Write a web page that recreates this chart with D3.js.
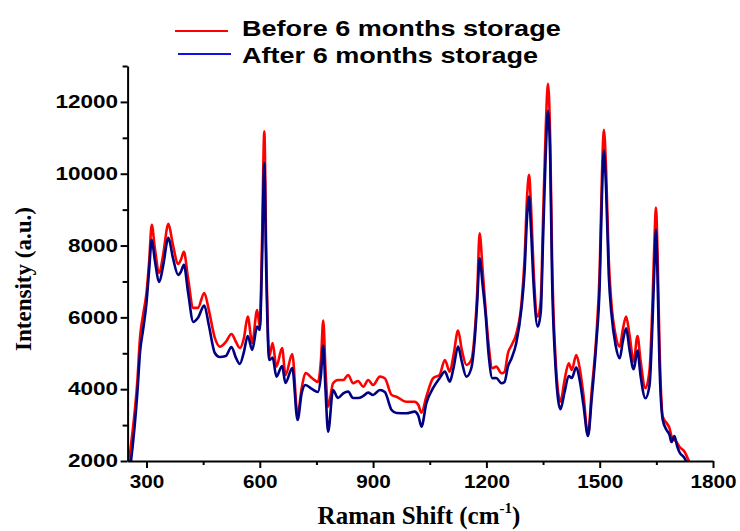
<!DOCTYPE html>
<html>
<head>
<meta charset="utf-8">
<script src="https://cdn.jsdelivr.net/npm/d3@7"></script>
<style>
    body { margin: 0; background: #fff; }
    svg { display: block; }
</style>
</head>
<body>
<div id="chart"></div>
<script>
// Raman spectra (cm-1 / a.u.)
var ramanShift = [254, 259, 276, 283, 291, 300, 307, 314, 322, 334,
    344, 358, 370, 384, 391, 399, 410, 424, 436, 453,
    465, 481, 494, 510, 525, 537, 547, 558, 568, 580,
    593, 600, 606, 612, 617, 625, 634, 644, 659, 668,
    686, 700, 711, 721, 738, 754, 762, 768, 774, 781,
    794, 807, 821, 834, 847, 860, 874, 887, 900, 918,
    931, 949, 962, 988, 1010, 1020, 1028, 1041, 1059, 1076,
    1090, 1103, 1113, 1125, 1135, 1147, 1160, 1169, 1176, 1182,
    1190, 1198, 1206, 1216, 1226, 1240, 1248, 1257, 1267, 1279,
    1293, 1301, 1308, 1313, 1318, 1325, 1336, 1344, 1350, 1357,
    1363, 1369, 1374, 1381, 1396, 1407, 1418, 1426, 1438, 1447,
    1457, 1469, 1479, 1491, 1500, 1506, 1511, 1517, 1524, 1531,
    1542, 1553, 1561, 1570, 1579, 1590, 1600, 1608, 1621, 1632,
    1640, 1645, 1649, 1653, 1658, 1667, 1677, 1685, 1690, 1698,
    1705, 1711, 1725, 1733, 1738];

var beforeStorage = [2000, 2446, 4257, 5455, 6068, 6680, 7544, 8575, 7934, 7238,
    7739, 8603, 8018, 7488, 7600, 7823, 7098, 6263, 6263, 6680,
    6207, 5427, 5184, 5315, 5538, 5315, 5148, 5427, 6020, 5287,
    6207, 5742, 8157, 11180, 7878, 4906, 5287, 4627, 5148, 4396,
    4981, 3282, 4034, 4452, 4312, 4201, 4814, 5909, 4535, 3513,
    4165, 4257, 4257, 4396, 4165, 4229, 4070, 4257, 4117, 4349,
    4304, 3839, 3791, 3652, 3652, 3560, 3346, 3791, 4304, 4396,
    4814, 4488, 4953, 5630, 5092, 4675, 4814, 5558, 6764, 8344,
    7321, 6207, 5232, 4583, 4627, 4443, 4480, 5000, 5232, 5538,
    6394, 7600, 9411, 9968, 9132, 7321, 6020, 6485, 8714, 11222,
    12503, 10943, 7600, 5279, 3652, 4257, 4722, 4535, 4953, 4591,
    3839, 2724, 3978, 5463, 7321, 9968, 11222, 10107, 7600, 6394,
    5510, 5184, 5650, 6020, 5510, 4767, 5483, 4814, 4025, 4535,
    6485, 8157, 9057, 7878, 5371, 3234, 3059, 2911, 2697, 2585,
    2501, 2398, 2251, 2075, 1944];

var afterStorage = [1610, 2000, 3922, 5037, 5650, 6402, 7321, 8157, 7600, 6987,
    7433, 8213, 7656, 7182, 7266, 7461, 6708, 5873, 5984, 6327,
    5789, 5009, 4897, 4925, 5176, 4870, 4702, 5037, 5483, 5092,
    5742, 5650, 7600, 10294, 7321, 4814, 4878, 4349, 4647, 4173,
    4591, 3142, 3894, 4117, 4006, 3922, 4396, 5212, 3978, 2816,
    3978, 3755, 3886, 3931, 3755, 3755, 3811, 3903, 3839, 3978,
    3922, 3421, 3337, 3329, 3374, 3254, 2956, 3608, 4034, 4304,
    4488, 4209, 4591, 5184, 4758, 4349, 4583, 5371, 6485, 7647,
    6903, 6068, 4953, 4304, 4312, 4165, 4201, 4627, 4870, 5279,
    6263, 7266, 8854, 9363, 8491, 6903, 5742, 6151, 8157, 10525,
    11751, 10386, 7043, 5009, 3440, 3922, 4368, 4312, 4610, 4257,
    3560, 2697, 3755, 5279, 6903, 9411, 10645, 9550, 7182, 6115,
    5232, 4861, 5315, 5697, 5092, 4555, 5073, 4396, 3747, 4117,
    5928, 7461, 8436, 7182, 4814, 3142, 2864, 2724, 2529, 2697,
    2418, 2251, 2075, 1889, 1750];

var xTicks = [300, 600, 900, 1200, 1500, 1800];
var xMinorTicks = [450, 750, 1050, 1350, 1650];
var yTicks = [2000, 4000, 6000, 8000, 10000, 12000];
var yMinorTicks = [3000, 5000, 7000, 9000, 11000, 13000];
var seriesNames = ["Before 6 months storage", "After 6 months storage"];

class ramanPlot {
    constructor(containerID) {
        this.containerID = "#" + containerID;
        this.width = 740;
        this.height = 531;
        // plot box in pixels
        this.left = 127.6;
        this.right = 713;
        this.top = 66;
        this.bottom = 461;
        this.stretch = 1.25; // the figure's sans text is drawn wide
        this.sansFont = "'Liberation Sans', Arial, sans-serif";
        this.serifFont = "'Liberation Serif', 'Times New Roman', serif";
    }

    drawPlot() {
        var self = this;
        this.svg = d3.select(this.containerID)
            .append("svg")
            .attr("width", this.width)
            .attr("height", this.height);

        this.x = d3.scaleLinear().domain([250, 1800]).range([this.left, this.right]);
        this.y = d3.scaleLinear().domain([2000, 13000]).range([this.bottom, this.top]);

        this.svg.append("clipPath")
            .attr("id", "plot-clip")
            .append("rect")
            .attr("x", this.left)
            .attr("y", this.top)
            .attr("width", this.right - this.left)
            .attr("height", this.bottom - this.top);

        var before = ramanShift.map(function (d, i) { return [d, beforeStorage[i]]; });
        var after = ramanShift.map(function (d, i) { return [d, afterStorage[i]]; });

        var line = d3.line()
            .x(function (d) { return self.x(d[0]); })
            .y(function (d) { return self.y(d[1]); })
            .curve(d3.curveMonotoneX);

        var plotArea = this.svg.append("g").attr("clip-path", "url(#plot-clip)");
        plotArea.append("path")
            .datum(before)
            .attr("d", line)
            .attr("fill", "none")
            .attr("stroke", "#ff0000")
            .attr("stroke-width", 2.6)
            .attr("stroke-linejoin", "round");
        plotArea.append("path")
            .datum(after)
            .attr("d", line)
            .attr("fill", "none")
            .attr("stroke", "#000080")
            .attr("stroke-width", 2.6)
            .attr("stroke-linejoin", "round");

        this.drawAxes();
        this.drawLegend();
    }

    drawAxes() {
        var self = this;
        // minor ticks first, majors with labels on top
        this.svg.append("g")
            .attr("transform", "translate(0," + this.bottom + ")")
            .call(d3.axisBottom(this.x).tickValues(xMinorTicks).tickSize(4).tickFormat(""))
            .call(function (g) { g.select(".domain").remove(); });
        this.svg.append("g")
            .attr("transform", "translate(" + this.left + ",0)")
            .call(d3.axisLeft(this.y).tickValues(yMinorTicks).tickSize(5).tickFormat(""))
            .call(function (g) { g.select(".domain").remove(); });

        var xAxis = this.svg.append("g")
            .attr("transform", "translate(0," + this.bottom + ")")
            .call(d3.axisBottom(this.x).tickValues(xTicks).tickFormat(d3.format("d"))
                .tickSizeInner(7).tickSizeOuter(0));
        var yAxis = this.svg.append("g")
            .attr("transform", "translate(" + this.left + ",0)")
            .call(d3.axisLeft(this.y).tickValues(yTicks).tickFormat(d3.format("d"))
                .tickSizeInner(7).tickSizeOuter(0));

        this.svg.selectAll(".tick line").attr("stroke", "#000").attr("stroke-width", 2);
        this.svg.selectAll(".domain").attr("stroke", "#000").attr("stroke-width", 2);

        xAxis.selectAll("text")
            .attr("y", 27)
            .attr("dy", 0)
            .attr("transform", "scale(1.15,1)")
            .style("font-family", this.sansFont)
            .style("font-weight", "bold")
            .style("font-size", "18px")
            .style("fill", "#000");
        yAxis.selectAll("text")
            .attr("x", -9.6 / this.stretch)
            .attr("transform", "scale(" + this.stretch + ",1)")
            .style("font-family", this.sansFont)
            .style("font-weight", "bold")
            .style("font-size", "18px")
            .style("fill", "#000");

        // axis titles
        this.svg.append("text")
            .attr("transform", "translate(31,279) rotate(-90)")
            .attr("text-anchor", "middle")
            .style("font-family", this.serifFont)
            .style("font-weight", "bold")
            .style("font-size", "23px")
            .text("Intensity (a.u.)");

        var xTitle = this.svg.append("text")
            .attr("x", 419)
            .attr("y", 524)
            .attr("text-anchor", "middle")
            .style("font-family", this.serifFont)
            .style("font-weight", "bold")
            .style("font-size", "25px");
        xTitle.append("tspan").text("Raman Shift (cm");
        xTitle.append("tspan").attr("dy", -11).style("font-size", "15px").text("-1");
        xTitle.append("tspan").attr("dy", 11).text(")");
    }

    drawLegend() {
        var self = this;
        var legendData = [
            { name: seriesNames[0], color: "#ff0000", x1: 175, x2: 228, y: 31, textY: 36 },
            { name: seriesNames[1], color: "#1010ee", x1: 178, x2: 231, y: 54, textY: 63 }
        ];
        var legend = this.svg.append("g").attr("class", "legend");
        legend.selectAll("line")
            .data(legendData)
            .enter().append("line")
            .attr("x1", function (d) { return d.x1; })
            .attr("x2", function (d) { return d.x2; })
            .attr("y1", function (d) { return d.y; })
            .attr("y2", function (d) { return d.y; })
            .attr("stroke", function (d) { return d.color; })
            .attr("stroke-width", 2);
        legend.selectAll("text")
            .data(legendData)
            .enter().append("text")
            .attr("transform", function (d) { return "translate(242," + d.textY + ") scale(1.23,1)"; })
            .style("font-family", this.sansFont)
            .style("font-weight", "bold")
            .style("font-size", "22px")
            .text(function (d) { return d.name; });
    }
}

var plot = new ramanPlot("chart");
plot.drawPlot();
</script>
</body>
</html>
